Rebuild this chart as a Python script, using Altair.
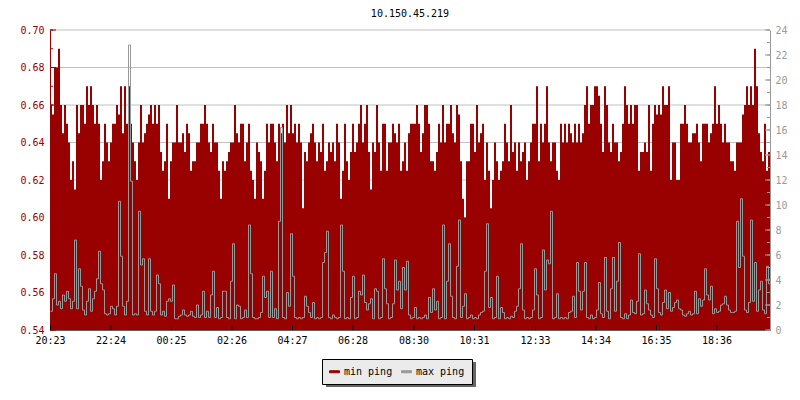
import altair as alt
import pandas as pd

# ---------------- data ----------------
TITLE = "10.150.45.219"
SERIES = ["min ping", "max ping"]
COLORS = ["#990000", "#999999"]
START = "2024-01-01 20:23"
STEP_MIN = 4  # one sample every 4 minutes, 24 h window

TICK_LABELS = ["20:23", "22:24", "00:25", "02:26", "04:27", "06:28",
               "08:30", "10:31", "12:33", "14:34", "16:35", "18:36"]
LEFT_TICKS = [0.54, 0.55, 0.56, 0.57, 0.58, 0.59, 0.60, 0.61, 0.62,
              0.63, 0.64, 0.65, 0.66, 0.67, 0.68, 0.69, 0.70]
GRID_VALUES = [0.54, 0.56, 0.58, 0.60, 0.62, 0.64, 0.66, 0.68, 0.70]
RIGHT_TICKS = [0, 1, 2, 3, 4, 5, 6, 7, 8, 9, 10, 11, 12,
               13, 14, 15, 16, 17, 18, 19, 20, 21, 22, 23, 24]
RIGHT_LABELS = [0, 2, 4, 6, 8, 10, 12, 14, 16, 18, 20, 22, 24]

# min ping (left axis), in thousandths of a ms
MIN_PING_X1000 = [
    660, 655, 680, 680, 690, 660, 645, 660, 650, 640,
    620, 630, 615, 660, 645, 660, 660, 650, 670, 660,
    670, 660, 650, 660, 650, 620, 630, 650, 640, 630,
    640, 650, 650, 660, 655, 670, 645, 670, 650, 670,
    650, 640, 630, 620, 640, 660, 640, 645, 650, 655,
    660, 650, 660, 650, 660, 635, 625, 630, 650, 610,
    630, 640, 640, 660, 640, 640, 645, 635, 650, 645,
    625, 630,
    630, 640, 640, 650, 650, 660, 650, 640,
    635, 650, 640, 640, 625, 610, 630, 625, 630, 635,
    640, 640, 660, 645, 640, 650, 650, 630, 640, 650,
    625, 620, 610, 640, 635, 630, 610, 625, 650, 640,
    650, 650, 640, 630, 650, 645, 650, 640, 660, 645,
    660, 645, 650, 640, 650, 640, 605, 635, 630, 640,
    645, 650, 640, 630, 640, 635, 650, 625, 630, 640,
    635, 640, 630, 650,
    640, 610, 625, 650, 630, 620, 635, 650, 635, 640,
    650, 660, 640, 650, 660, 635, 615, 640, 635, 660,
    640, 625, 650, 650, 625, 640, 640, 650, 645, 640,
    650, 625, 630, 640, 625, 645, 650, 650, 650, 660,
    650, 635, 645, 660, 660, 650, 630, 630, 625, 635,
    650, 640, 660, 640, 650, 650, 660, 645, 640, 660,
    655, 630, 610, 600, 630, 630, 650, 650, 635, 660,
    640, 645,
    650, 620, 640, 625, 605, 620, 640, 630, 620, 625,
    630, 650, 640, 630, 660, 635, 640, 625, 640, 630,
    635, 640, 620, 630, 640, 650, 650, 670, 630, 650,
    640, 650, 670, 640, 630, 640, 640, 625, 620, 650,
    640, 650, 640, 650, 645, 640, 650, 640, 650, 640,
    645, 660, 670, 650, 660, 660, 670, 670, 665, 650,
    635, 670, 660, 640, 635, 650, 640, 640, 630, 635, 650, 670,
    660, 650, 660, 650, 660, 660, 625, 635, 635, 640,
    635, 660, 625, 650, 660, 655, 660, 655, 670, 660,
    660, 670, 620, 640, 640, 620, 620, 650, 650, 660,
    650, 640, 640, 645, 645, 650, 640, 630, 650, 650,
    650, 640, 645, 650, 670, 650, 660, 650, 640, 650,
    640, 640, 630, 630, 625, 640, 640, 640, 655, 660,
    670, 660, 670, 660, 690, 670, 645, 635, 630, 650, 625, 635,
]

# max ping (right axis), in tenths of a ms
MAX_PING_X10 = [
    15, 25, 45, 20, 23, 17, 28, 23, 31, 25,
    17, 23, 72, 17, 49, 35, 16, 12, 23, 33,
    15, 25, 31, 41, 63, 37, 32, 13, 12, 13,
    19, 17, 12, 19, 103, 59, 19, 12, 23, 228,
    119, 12, 13, 12, 95, 52, 57, 15, 12, 57,
    15, 12, 15, 44, 37, 12, 15, 11, 23, 25,
    23, 36, 9, 9, 11, 12, 16, 12, 11, 12,
    15, 11,
    10, 20, 10, 12, 31, 10, 15, 10,
    28, 47, 10, 18, 9, 10, 31, 31, 10, 9,
    39, 69, 9, 20, 19, 9, 10, 16, 10, 84,
    45, 10, 9, 9, 10, 14, 43, 26, 31, 10,
    47, 10, 17, 9, 87, 162, 10, 9, 30, 19,
    77, 43, 10, 9, 10, 9, 10, 27, 19, 14,
    10, 22, 9, 10, 9, 10, 54, 62, 79, 10,
    9, 12, 10, 9,
    10, 84, 47, 9, 10, 9, 26, 43, 9, 10,
    31, 28, 44, 22, 16, 21, 25, 9, 33, 31,
    9, 10, 57, 33, 21, 9, 10, 21, 56, 32,
    39, 17, 50, 32, 55, 12, 9, 10, 18, 9,
    10, 9, 10, 12, 9, 26, 14, 33, 16, 23,
    9, 10, 84, 9, 39, 69, 27, 10, 9, 51,
    88, 10, 19, 29, 9, 10, 12, 9, 10, 9,
    12, 14,
    15, 47, 85, 18, 26, 9, 10, 43, 9, 18,
    14, 9, 10, 9, 11, 10, 15, 19, 33, 69,
    16, 9, 10, 9, 10, 16, 49, 28, 9, 10,
    64, 32, 56, 53, 95, 9, 10, 29, 9, 10,
    9, 10, 9, 14, 15, 27, 10, 54, 31, 16,
    31, 54, 10, 9, 12, 9, 10, 16, 38, 13,
    10, 58, 15, 9, 33, 58, 15, 39, 70, 10, 9, 13,
    9, 12, 24, 14, 13, 23, 61, 12, 13, 32,
    21, 16, 12, 10, 57, 33, 14, 12, 22, 32,
    17, 30, 15, 18, 22, 24, 17, 16, 12, 11,
    13, 15, 12, 13, 31, 13, 25, 19, 24, 49,
    28, 24, 35, 13, 17, 14, 15, 20, 21, 27,
    20, 16, 14, 14, 15, 87, 50, 105, 59, 16,
    14, 22, 88, 23, 54, 15, 32, 39, 16, 13, 51, 37,
]

# ---------------- styling ----------------
FONT = "DejaVu Sans Mono"
RED, GRAY = COLORS
W, H = 720, 300

n = len(MIN_PING_X1000)
times = pd.date_range(START, periods=n + 1, freq=f"{STEP_MIN}min", tz="UTC")
tstr = list(times.strftime("%Y-%m-%dT%H:%M:%SZ"))
# last sample repeated at the window end to close the final step
min_vals = [v / 1000 for v in MIN_PING_X1000] + [MIN_PING_X1000[-1] / 1000]
max_vals = [v / 10 for v in MAX_PING_X10] + [MAX_PING_X10[-1] / 10]
min_df = pd.DataFrame({"t": tstr, "v": min_vals, "series": SERIES[0]})
max_df = pd.DataFrame({"t": tstr, "v": max_vals, "series": SERIES[1]})
grid_df = pd.DataFrame({"v": GRID_VALUES})
lt_df = pd.DataFrame({"v": LEFT_TICKS})
rt_df = pd.DataFrame({"v": RIGHT_TICKS})
rl_df = pd.DataFrame({"v": RIGHT_LABELS})


def dt(ts):
    return alt.DateTime(year=ts.year, month=ts.month, date=ts.day,
                        hours=ts.hour, minutes=ts.minute, utc=True)


tick_dt, tick_str = [], []
day, prev = 1, -1
for lab in TICK_LABELS:
    h, m = map(int, lab.split(":"))
    if h < prev:
        day += 1
    prev = h
    tick_dt.append(alt.DateTime(year=2024, month=1, date=day, hours=h,
                                minutes=m, utc=True))
    tick_str.append(f"2024-01-0{day}T{h:02d}:{m:02d}:00Z")
xt_df = pd.DataFrame({"t": tick_str})

# identical encodings are reused in every layer so shared axes merge cleanly
x_scale = alt.Scale(type="utc", domain=[dt(times[0]), dt(times[-1])], nice=False)
x_enc = alt.X(
    "t:T", scale=x_scale,
    axis=alt.Axis(values=tick_dt, labelExpr="utcFormat(datum.value, '%H:%M')",
                  title=None, grid=False, domainColor="black", ticks=False,
                  labelPadding=5, labelColor="black", labelFont=FONT,
                  labelFontSize=10, labelFlush=False),
)

left_scale = alt.Scale(domain=[0.54, 0.70], nice=False, zero=False)
right_scale = alt.Scale(domain=[0, 24], nice=False)
y_left = alt.Y(
    "v:Q", scale=left_scale,
    axis=alt.Axis(orient="left", values=GRID_VALUES, format=".2f",
                  title=None, grid=False, domainColor=RED, ticks=False,
                  labelColor=RED, labelPadding=6, labelFont=FONT,
                  labelFontSize=10),
)
y_right = alt.Y(
    "v:Q", scale=right_scale,
    axis=alt.Axis(orient="right", values=RIGHT_LABELS, format="d",
                  title=None, grid=False, domainColor=GRAY, ticks=False,
                  labelColor=GRAY, labelPadding=5, labelFont=FONT,
                  labelFontSize=10),
)

legend = alt.Legend(
    title=None, orient="none", legendX=272, legendY=329, direction="horizontal",
    fillColor="#ebebeb", strokeColor="black", padding=7,
    labelFont=FONT, labelFontSize=10, labelColor="black",
    symbolType="M-1,-0.2L1,-0.2L1,0.2L-1,0.2Z", symbolSize=100,
    symbolStrokeWidth=1, symbolOpacity=1, labelOffset=4, columnPadding=6,
)
color = alt.Color("series:N", scale=alt.Scale(domain=SERIES, range=COLORS),
                  legend=legend)

grid = alt.Chart(grid_df).mark_rule(color="#c0c0c0", strokeWidth=1).encode(
    y=y_left)

area = alt.Chart(min_df).mark_area(interpolate="step-after", opacity=1).encode(
    x=x_enc, y=y_left, y2=alt.Y2(datum=0.54), color=color)

# inward tick marks (left: minor + major, bottom), drawn over the area
lticks = alt.Chart(lt_df).mark_rule(color=RED).encode(
    y=y_left, x=alt.value(0), x2=alt.value(3))
lmajor = alt.Chart(grid_df).mark_rule(color=RED).encode(
    y=y_left, x=alt.value(0), x2=alt.value(6))
bticks = alt.Chart(xt_df).mark_rule(color="black", xOffset=0.5).encode(
    x=x_enc, y=alt.value(H - 5), y2=alt.value(H))

shadow = alt.Chart(pd.DataFrame({"k": [0]})).mark_rect(color="#666666").encode(
    x=alt.value(276), x2=alt.value(426), y=alt.value(332), y2=alt.value(357))

line = alt.Chart(max_df).mark_line(interpolate="step-after", strokeWidth=1,
                                   xOffset=0.5).encode(
    x=x_enc, y=y_right, color=color)
rticks = alt.Chart(rt_df).mark_rule(color=GRAY).encode(
    y=y_right, x=alt.value(W - 3), x2=alt.value(W))
rmajor = alt.Chart(rl_df).mark_rule(color=GRAY).encode(
    y=y_right, x=alt.value(W - 5), x2=alt.value(W))

chart = alt.layer(
    alt.layer(grid, area, shadow, lticks, lmajor, bticks),
    alt.layer(line, rticks, rmajor),
).resolve_scale(y="independent").properties(
    width=W, height=H,
    title=alt.Title(TITLE, font=FONT, fontSize=10, fontWeight="normal",
                    color="black", anchor="middle", offset=6),
    padding={"left": 42, "top": 22, "right": 22, "bottom": 62},
    autosize=alt.AutoSizeParams(type="none"),
).configure_view(stroke=None)

chart.save("out.html", embed_options={"renderer": "svg", "actions": False})
